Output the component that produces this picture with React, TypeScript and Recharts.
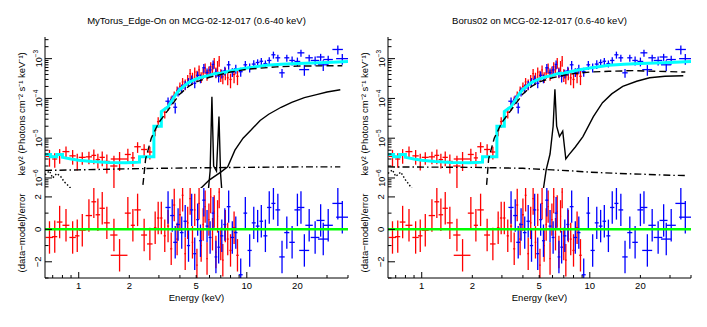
import React from "react";
import { ComposedChart, Line, Scatter, ErrorBar, XAxis, YAxis, ReferenceLine } from "recharts";

type Pt = [number, number, number, number, number];
type M = [number, number][];

// energy (keV), half bin width (keV), keV^2 flux, relative flux error, residual (sigma)
const redPoints: Pt[] = [
  [0.67, 0.035, 3.5e-6, 0.45, -0.5],
  [0.72, 0.025, 3.0e-6, 0.4, -0.45],
  [0.77, 0.03, 3.8e-6, 0.4, 0.45],
  [0.84, 0.04, 4.6e-6, 0.35, 0.25],
  [0.92, 0.04, 3.6e-6, 0.4, -0.5],
  [0.98, 0.03, 2.8e-6, 0.45, -0.4],
  [1.05, 0.05, 3.3e-6, 0.35, -0.05],
  [1.15, 0.05, 3.4e-6, 0.35, 0.85],
  [1.23, 0.04, 3.7e-6, 0.4, 1.7],
  [1.3, 0.04, 2.9e-6, 0.4, 0.9],
  [1.38, 0.05, 3.3e-6, 0.4, 1.3],
  [1.47, 0.06, 2.6e-6, 0.5, 0.4],
  [1.62, 0.08, 2.0e-6, 0.8, -0.35],
  [1.75, 0.2, 3.0e-6, 0.5, -1.6],
  [1.96, 0.08, 3.9e-6, 0.4, 1.0],
  [2.1, 0.06, 3.2e-6, 0.4, 0.25],
  [2.24, 0.1, 6.1e-6, 0.3, 1.2],
  [2.45, 0.1, 5.2e-6, 0.35, -0.35],
  [2.65, 0.1, 4.5e-6, 0.35, -0.9],
  [2.85, 0.05, 1.6e-5, 0.3, 0.1],
  [2.97, 0.05, 2.6e-5, 0.3, 0.7],
  [3.1, 0.05, 3.3e-5, 0.3, 0.7],
  [3.25, 0.05, 4.5e-5, 0.3, -0.4],
  [3.4, 0.05, 6.5e-5, 0.25, 0.2],
  [3.55, 0.05, 9e-5, 0.25, -1.2],
  [3.7, 0.05, 1.2e-4, 0.25, 1.5],
  [3.85, 0.05, 1.6e-4, 0.25, -0.6],
  [4.0, 0.05, 2e-4, 0.25, 0.9],
  [4.15, 0.05, 2.6e-4, 0.25, 2.1],
  [4.3, 0.05, 2.3e-4, 0.3, -1.5],
  [4.45, 0.05, 3.0e-4, 0.3, 0.4],
  [4.6, 0.05, 4.2e-4, 0.3, 1.9],
  [4.75, 0.05, 3.4e-4, 0.3, -0.8],
  [4.9, 0.05, 4.6e-4, 0.3, 1.2],
  [5.05, 0.05, 3.8e-4, 0.3, -2.2],
  [5.2, 0.05, 5.2e-4, 0.3, 1.6],
  [5.35, 0.05, 3.5e-4, 0.3, -1.0],
  [5.5, 0.05, 4.4e-4, 0.3, 0.3],
  [5.65, 0.05, 5.8e-4, 0.3, 1.4],
  [5.8, 0.05, 4.0e-4, 0.3, -1.8],
  [5.95, 0.05, 4.9e-4, 0.3, 0.6],
  [6.1, 0.05, 6.2e-4, 0.3, 2.0],
  [6.25, 0.05, 5.3e-4, 0.3, -0.3],
  [6.4, 0.05, 8.0e-4, 0.3, 1.1],
  [6.55, 0.05, 4.6e-4, 0.3, -1.4],
  [6.7, 0.05, 6.7e-4, 0.3, 0.8],
  [6.85, 0.05, 9.0e-4, 0.3, 2.3],
  [7.0, 0.05, 4.0e-4, 0.35, -0.9],
  [7.2, 0.08, 3.5e-4, 0.35, -1.9],
  [7.45, 0.08, 4.4e-4, 0.35, 0.2],
  [7.7, 0.1, 3.3e-4, 0.35, -0.6],
  [8.0, 0.12, 3.0e-4, 0.4, -1.3],
  [8.4, 0.15, 4.0e-4, 0.4, 0.1],
  [8.8, 0.15, 3.6e-4, 0.4, -1.6],
];

const bluePoints: Pt[] = [
  [3.4, 0.12, 8.5e-5, 0.25, 1.35],
  [3.6, 0.1, 9.5e-5, 0.25, 0.85],
  [3.75, 0.1, 6e-5, 0.3, -0.8],
  [3.9, 0.1, 1.5e-4, 0.25, 0.3],
  [4.1, 0.1, 1.8e-4, 0.25, -0.2],
  [4.3, 0.1, 2.2e-4, 0.25, 0.5],
  [4.5, 0.1, 2.6e-4, 0.25, -1.0],
  [4.7, 0.1, 3.0e-4, 0.25, 1.2],
  [4.9, 0.1, 2.4e-4, 0.25, -1.5],
  [5.1, 0.1, 3.8e-4, 0.25, 0.6],
  [5.3, 0.1, 3.2e-4, 0.25, -0.7],
  [5.55, 0.12, 5.9e-4, 0.25, 1.8],
  [5.8, 0.12, 4.5e-4, 0.25, 0.2],
  [6.05, 0.12, 5.2e-4, 0.25, -0.5],
  [6.3, 0.12, 7.2e-4, 0.25, 1.0],
  [6.55, 0.12, 4.5e-4, 0.25, -1.7],
  [6.8, 0.12, 3.6e-4, 0.3, -1.1],
  [7.1, 0.15, 4.2e-4, 0.25, -0.4],
  [7.4, 0.15, 5.0e-4, 0.25, 0.3],
  [7.8, 0.2, 7.0e-4, 0.25, 1.4],
  [8.2, 0.2, 4.6e-4, 0.25, -0.5],
  [8.6, 0.2, 5.6e-4, 0.25, -0.2],
  [9.2, 0.25, 4.7e-4, 0.25, -2.8],
  [9.8, 0.25, 7.0e-4, 0.25, 1.0],
  [10.4, 0.3, 6.0e-4, 0.25, -1.3],
  [11.0, 0.3, 7.3e-4, 0.25, 0.4],
  [11.6, 0.3, 8.0e-4, 0.2, 0.2],
  [12.2, 0.3, 8.6e-4, 0.2, 0.5],
  [12.9, 0.35, 7.5e-4, 0.2, -0.4],
  [13.6, 0.4, 9.0e-4, 0.2, 1.35],
  [14.4, 0.4, 1.25e-3, 0.2, 1.6],
  [15.3, 0.5, 1.05e-3, 0.2, 1.2],
  [16.2, 0.6, 4.4e-4, 0.25, -1.7],
  [17.3, 0.6, 1.05e-3, 0.2, -0.2],
  [18.6, 0.7, 9.0e-4, 0.25, -0.8],
  [20.0, 0.8, 8.5e-4, 0.25, 1.2],
  [21.0, 1.0, 1.4e-3, 0.2, 1.35],
  [22.0, 1.5, 5.3e-4, 0.3, -1.3],
  [23.5, 1.2, 1.05e-3, 0.2, 0.25],
  [25.5, 1.5, 9.0e-4, 0.25, -0.5],
  [27.5, 1.5, 1.1e-3, 0.2, 0.55],
  [28.5, 2.0, 7.0e-4, 0.3, -0.6],
  [30.5, 2.0, 9.5e-4, 0.25, 0.25],
  [34.8, 2.5, 1.7e-3, 0.25, 1.6],
  [37.0, 3.0, 1.0e-3, 0.3, 0.75],
];

// total folded model (cyan), same shape in both fits
const totalModel: M = [
  [0.63, 3.9e-6], [0.68, 3.9e-6], [0.68, 3.4e-6], [0.74, 3.4e-6], [0.74, 3.9e-6], [0.8, 3.9e-6],
  [0.8, 3.3e-6], [0.9, 3.0e-6], [1.0, 2.8e-6], [1.2, 2.6e-6], [1.5, 2.45e-6], [1.9, 2.4e-6],
  [2.1, 2.45e-6], [2.3, 2.5e-6], [2.3, 3.4e-6], [2.8, 3.4e-6], [2.8, 2.0e-5], [3.1, 2.0e-5],
  [3.1, 4.7e-5], [3.4, 6.2e-5], [3.6, 9e-5], [3.8, 1.3e-4], [4.0, 1.7e-4], [4.5, 2.5e-4],
  [5.0, 3.1e-4], [5.5, 3.5e-4], [6.0, 3.8e-4], [6.4, 4.2e-4], [7.0, 4.3e-4], [8.5, 5.2e-4],
  [10, 5.8e-4], [13, 6.8e-4], [16, 7.2e-4], [20, 7.5e-4], [30, 8e-4], [40, 8.5e-4],
];

// MyTorus edge-on components
const mytDirect: M = [
  [2.3, 1e-7], [2.5, 3e-6], [2.7, 1e-5], [3.0, 2.5e-5], [3.5, 6e-5], [4.0, 1.3e-4], [4.5, 2e-4],
  [5, 2.6e-4], [6, 3.4e-4], [7, 4e-4], [8, 4.6e-4], [10, 5.4e-4], [15, 6.2e-4], [20, 6.5e-4],
  [30, 6.6e-4], [37, 6.6e-4],
];
const mytScatter: M = [
  [4.8, 1e-7], [5.2, 5e-7], [6, 9e-7], [7, 1.4e-6], [7.7, 1.9e-6], [8.5, 5e-6], [9.5, 1e-5],
  [10.6, 1.6e-5], [12, 2.8e-5], [13.5, 4e-5], [16, 6e-5], [18.5, 8e-5], [22, 1.05e-4],
  [26, 1.25e-4], [30, 1.45e-4], [36, 1.65e-4],
];
const mytLines: M = [
  [5.7, 1e-7], [6.05, 1.5e-6], [6.2, 1.1e-4], [6.35, 2e-6], [6.6, 1.5e-6], [6.83, 3.5e-5],
  [6.98, 1.3e-6], [7.3, 1e-7],
];
const mytSoft: M = [
  [0.63, 1.55e-6], [1, 1.6e-6], [2, 1.7e-6], [3, 1.75e-6], [5, 1.8e-6], [10, 1.85e-6],
  [20, 1.9e-6], [36, 1.9e-6],
];
const mytThermal: M = [
  [0.63, 1.2e-6], [0.67, 1.5e-6], [0.7, 1.0e-6], [0.74, 1.3e-6], [0.78, 1.1e-6], [0.82, 8e-7],
  [0.88, 6e-7], [0.95, 4e-7],
];

// Borus02 components
const borDirect: M = [
  [2.35, 1e-7], [2.5, 3e-6], [2.7, 1e-5], [3, 2.5e-5], [3.5, 6e-5], [4, 1.3e-4], [4.5, 2e-4],
  [5, 2.6e-4], [6, 3.3e-4], [7, 3.8e-4], [8, 4.2e-4], [10, 4.6e-4], [13, 4.8e-4], [18, 5e-4],
  [25, 4.8e-4], [37, 4.6e-4],
];
const borReflect: M = [
  [5.0, 1e-7], [5.5, 1.6e-6], [5.8, 4e-6], [6.05, 2e-5], [6.2, 1.7e-4], [6.35, 2e-5], [6.6, 1.1e-5],
  [6.9, 1.5e-5], [7.2, 3e-6], [7.5, 3.8e-6], [8.2, 6e-6], [9.1, 1.1e-5], [10.5, 3.5e-5],
  [11.9, 7.8e-5], [13.5, 1.3e-4], [15.7, 2e-4], [19, 2.7e-4], [22.7, 3.3e-4], [28, 3.6e-4],
  [36, 3.7e-4],
];
const borSoft: M = [
  [0.63, 1.9e-6], [2, 1.85e-6], [4, 1.75e-6], [6, 1.6e-6], [8, 1.5e-6], [10, 1.4e-6],
  [15, 1.3e-6], [20, 1.25e-6], [30, 1.17e-6], [37, 1.15e-6],
];
const borThermal: M = [
  [0.63, 1.3e-6], [0.67, 1.6e-6], [0.7, 1.1e-6], [0.75, 1.4e-6], [0.8, 9e-7], [0.86, 6e-7],
  [0.92, 4e-7],
];

const energyTicks = [0.7, 0.8, 0.9, 1, 2, 3, 4, 5, 6, 7, 8, 9, 10, 20, 30, 40];
const energyLabels = [1, 2, 5, 10, 20];
const fluxTicks = [
  6e-7, 7e-7, 8e-7, 9e-7, 1e-6, 2e-6, 3e-6, 4e-6, 5e-6, 6e-6, 7e-6, 8e-6, 9e-6,
  1e-5, 2e-5, 3e-5, 4e-5, 5e-5, 6e-5, 7e-5, 8e-5, 9e-5, 1e-4, 2e-4, 3e-4, 4e-4, 5e-4,
  6e-4, 7e-4, 8e-4, 9e-4, 1e-3, 2e-3, 3e-3,
];
const fluxLabels = [1e-6, 1e-5, 1e-4, 1e-3];
const residTicks = [-3, -2, -1, 0, 1, 2];
const residLabels = [-2, 0, 2];

const FONT = "'Liberation Sans', Arial, sans-serif";
const E_DOMAIN = [0.63, 40];
const F_DOMAIN = [5.6e-7, 3.5e-3];
const R_DOMAIN = [-3, 2.55];

// error bars are cut at the frame, like the plot does
const specRows = (pts: Pt[]) =>
  pts.map(([e, de, f, rel]) => ({
    x: e,
    y: f,
    ex: [de, de],
    ey: [Math.min(f * rel, f - F_DOMAIN[0]), Math.min(f * rel, F_DOMAIN[1] - f)],
  }));
const residRows = (pts: Pt[]) =>
  pts.map(([e, de, , , r]) => ({
    x: e,
    y: r,
    ex: [de, de],
    ey: [Math.min(1, r - R_DOMAIN[0]), Math.min(1, R_DOMAIN[1] - r)],
  }));
const lineRows = (m: M) => m.map(([x, y]) => ({ x, y }));

function EnergyTick(props: any) {
  const { x, y, payload, side, labels } = props;
  const v = payload.value;
  const len = v === 1 || v === 10 ? 6 : 3;
  const dir = side === "top" ? 1 : -1;
  return (
    <g>
      <line x1={x} x2={x} y1={y} y2={y + dir * len} stroke="#000" strokeWidth={1} />
      {labels && energyLabels.includes(v) && (
        <text x={x} y={y + 11} textAnchor="middle" fontSize={9.5} fill="#000" fontFamily={FONT}>
          {v}
        </text>
      )}
    </g>
  );
}

function FluxTick(props: any) {
  const { x, y, payload, side, labels } = props;
  const v = payload.value;
  const major = fluxLabels.includes(v);
  const dir = side === "left" ? 1 : -1;
  const exp = Math.round(Math.log10(v));
  return (
    <g>
      <line x1={x} x2={x + dir * (major ? 7 : 3.5)} y1={y} y2={y} stroke="#000" strokeWidth={1} />
      {labels && major && (
        <text transform={`translate(${x - 3},${y}) rotate(-90)`} textAnchor="middle" fontSize={9} fill="#000" fontFamily={FONT}>
          10<tspan dy={-4} fontSize={6.5}>{"\u2212" + -exp}</tspan>
        </text>
      )}
    </g>
  );
}

function ResidTick(props: any) {
  const { x, y, payload, side, labels } = props;
  const v = payload.value;
  const major = residLabels.includes(v);
  const dir = side === "left" ? 1 : -1;
  return (
    <g>
      <line x1={x} x2={x + dir * (major ? 7 : 3.5)} y1={y} y2={y} stroke="#000" strokeWidth={1} />
      {labels && major && (
        <text transform={`translate(${x - 4},${y}) rotate(-90)`} textAnchor="middle" fontSize={9.5} fill="#000" fontFamily={FONT}>
          {v < 0 ? "\u2212" + -v : String(v)}
        </text>
      )}
    </g>
  );
}

const frame = { stroke: "#000", strokeWidth: 1 };
const divider = { stroke: "#3a3a3a", strokeWidth: 2 };

function ModelLine({ data, color = "#000", width = 1.4, dash }: { data: M; color?: string; width?: number; dash?: string }) {
  return (
    <Line
      data={lineRows(data)}
      dataKey="y"
      type="linear"
      stroke={color}
      strokeWidth={width}
      strokeDasharray={dash}
      dot={false}
      activeDot={false}
      isAnimationActive={false}
    />
  );
}

function DataCrosses({ rows, color }: { rows: any[]; color: string }) {
  return (
    <Scatter data={rows} fill={color} shape={() => <g />} isAnimationActive={false}>
      <ErrorBar dataKey="ex" direction="x" width={0} stroke={color} strokeWidth={1.3} isAnimationActive={false} />
      <ErrorBar dataKey="ey" direction="y" width={0} stroke={color} strokeWidth={1.3} isAnimationActive={false} />
    </Scatter>
  );
}

function Panel({ left, title, direct, reflect, lines, soft, thermal }: {
  left: number; title: string; direct: M; reflect: M; lines?: M; soft: M; thermal: M;
}) {
  const label: React.CSSProperties = {
    position: "absolute", whiteSpace: "nowrap", fontFamily: FONT, color: "#000",
    transform: "translate(-50%, -50%) rotate(-90deg)",
  };
  return (
    <>
      <div style={{ position: "absolute", left: left + 196.5, top: 20, transform: "translate(-50%, -50%)", fontSize: 9.5, fontFamily: FONT, whiteSpace: "nowrap" }}>
        {title}
      </div>
      <div style={{ ...label, left: left + 21, top: 114, fontSize: 9.5 }}>
        keV² (Photons cm⁻² s⁻¹ keV⁻¹)
      </div>
      <div style={{ ...label, left: left + 21, top: 233, fontSize: 9.5 }}>(data−model)/error</div>
      <div style={{ position: "absolute", left: left + 196.5, top: 297, transform: "translate(-50%, -50%)", fontSize: 9.5, fontFamily: FONT, whiteSpace: "nowrap" }}>
        Energy (keV)
      </div>

      <div style={{ position: "absolute", left, top: 0 }}>
        <ComposedChart width={360} height={200} margin={{ top: 37, right: 12, bottom: 12, left: 0 }}>
          <XAxis dataKey="x" type="number" scale="log" domain={E_DOMAIN} allowDataOverflow ticks={energyTicks}
            interval={0} height={0} tickSize={0} tickMargin={0} tickLine={false} axisLine={divider}
            tick={<EnergyTick side="bottom" />} />
          <XAxis xAxisId="top" orientation="top" type="number" scale="log" domain={E_DOMAIN} allowDataOverflow
            ticks={energyTicks} interval={0} height={0} tickSize={0} tickMargin={0} tickLine={false} axisLine={frame}
            tick={<EnergyTick side="top" />} />
          <YAxis dataKey="y" type="number" scale="log" domain={F_DOMAIN} allowDataOverflow ticks={fluxTicks}
            interval={0} width={45} tickSize={0} tickMargin={0} tickLine={false} axisLine={frame}
            tick={<FluxTick side="left" labels />} />
          <YAxis yAxisId="right" orientation="right" type="number" scale="log" domain={F_DOMAIN} allowDataOverflow
            ticks={fluxTicks} interval={0} width={0} tickSize={0} tickMargin={0} tickLine={false} axisLine={frame}
            tick={<FluxTick side="right" />} />
          <DataCrosses rows={specRows(redPoints)} color="#ff0000" />
          <DataCrosses rows={specRows(bluePoints)} color="#0000ff" />
          {ModelLine({ data: totalModel, color: "#00ffff", width: 3 })}
          {ModelLine({ data: direct, dash: "7 4" })}
          {ModelLine({ data: reflect })}
          {lines ? ModelLine({ data: lines }) : null}
          {ModelLine({ data: soft, dash: "7 3 1.5 3" })}
          {ModelLine({ data: thermal, dash: "1.5 2" })}
        </ComposedChart>
      </div>

      <div style={{ position: "absolute", left, top: 180 }}>
        <ComposedChart width={360} height={140} margin={{ top: 8, right: 12, bottom: 12, left: 0 }}>
          <XAxis dataKey="x" type="number" scale="log" domain={E_DOMAIN} allowDataOverflow ticks={energyTicks}
            interval={0} height={30} tickSize={0} tickMargin={0} tickLine={false} axisLine={frame}
            tick={<EnergyTick side="bottom" labels />} />
          <XAxis xAxisId="top" orientation="top" type="number" scale="log" domain={E_DOMAIN} allowDataOverflow
            ticks={energyTicks} interval={0} height={0} tickSize={0} tickMargin={0} tickLine={false} axisLine={divider}
            tick={<EnergyTick side="top" />} />
          <YAxis dataKey="y" type="number" domain={R_DOMAIN} allowDataOverflow ticks={residTicks}
            interval={0} width={45} tickSize={0} tickMargin={0} tickLine={false} axisLine={frame}
            tick={<ResidTick side="left" labels />} />
          <YAxis yAxisId="right" orientation="right" type="number" domain={R_DOMAIN} allowDataOverflow
            ticks={residTicks} interval={0} width={0} tickSize={0} tickMargin={0} tickLine={false} axisLine={frame}
            tick={<ResidTick side="right" />} />
          <DataCrosses rows={residRows(redPoints)} color="#ff0000" />
          <DataCrosses rows={residRows(bluePoints)} color="#0000ff" />
          <ReferenceLine y={0} stroke="#00ff00" strokeWidth={2.5} />
        </ComposedChart>
      </div>
    </>
  );
}

export default function App() {
  return (
    <div style={{ position: "fixed", left: 0, top: 0, width: 707, height: 327, background: "#fff", overflow: "hidden" }}>
      <Panel left={0} title="MyTorus_Edge-On on MCG-02-12-017 (0.6-40 keV)"
        direct={mytDirect} reflect={mytScatter} lines={mytLines} soft={mytSoft} thermal={mytThermal} />
      <Panel left={343} title="Borus02 on MCG-02-12-017 (0.6-40 keV)"
        direct={borDirect} reflect={borReflect} soft={borSoft} thermal={borThermal} />
    </div>
  );
}
